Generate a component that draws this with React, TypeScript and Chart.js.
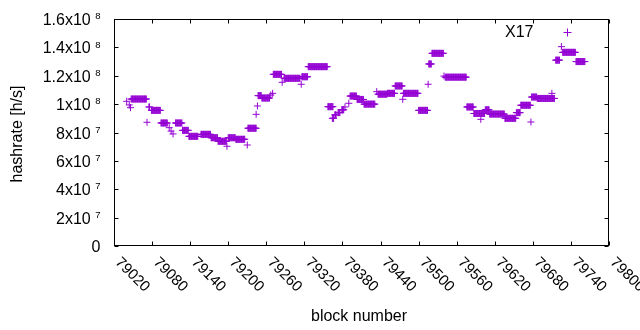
import React, { useEffect, useRef } from "react";
import { Chart, registerables } from "chart.js";

Chart.register(...registerables);

const seriesLabel = "X17";
const xTitle = "block number";
const yTitle = "hashrate [h/s]";

// runs of equal hashrate: first block, last block, value (h/s)
const runStart = [
  79040, 79044, 79046, 79047, 79072, 79075, 79079, 79094, 79107, 79110,
  79113, 79117, 79128, 79138, 79157, 79173, 79184, 79198, 79200, 79212,
  79230, 79231, 79244, 79246, 79247, 79253, 79267, 79270, 79271, 79285,
  79288, 79315, 79316, 79326, 79357, 79364, 79368, 79373, 79379, 79384,
  79390, 79392, 79403, 79414, 79434, 79436, 79451, 79463, 79475, 79476,
  79500, 79515, 79516, 79521, 79540, 79542, 79576, 79587, 79598, 79605,
  79612, 79636, 79654, 79661, 79677, 79678, 79687, 79710, 79716, 79725,
  79727, 79748,
];
const runEnd = [
  79040, 79044, 79046, 79071, 79072, 79076, 79093, 79104, 79107, 79110,
  79113, 79127, 79137, 79152, 79172, 79183, 79197, 79198, 79211, 79226,
  79230, 79244, 79244, 79246, 79252, 79265, 79267, 79270, 79284, 79285,
  79313, 79315, 79325, 79356, 79365, 79366, 79370, 79376, 79382, 79384,
  79390, 79402, 79413, 79431, 79434, 79450, 79462, 79474, 79475, 79499,
  79514, 79515, 79520, 79539, 79540, 79575, 79586, 79604, 79598, 79611,
  79635, 79653, 79660, 79676, 79677, 79686, 79714, 79710, 79722, 79725,
  79747, 79762,
];
const runValue = [
  1.02e8, 9.94e7, 9.75e7, 1.036e8, 8.72e7, 9.8e7, 9.56e7, 8.67e7, 8.34e7, 8.1e7,
  7.9e7, 8.67e7, 8.15e7, 7.73e7, 7.87e7, 7.63e7, 7.38e7, 7.03e7, 7.63e7, 7.52e7,
  7.12e7, 8.3e7, 9.28e7, 9.87e7, 1.06e8, 1.043e8, 1.064e8, 1.076e8, 1.21e8, 1.154e8,
  1.182e8, 1.14e8, 1.193e8, 1.264e8, 9.82e7, 9.0e7, 9.25e7, 9.4e7, 9.6e7, 9.8e7,
  1.006e8, 1.057e8, 1.033e8, 1.0e8, 1.088e8, 1.07e8, 1.076e8, 1.128e8, 1.034e8, 1.076e8,
  9.56e7, 1.14e8, 1.283e8, 1.358e8, 1.198e8, 1.19e8, 9.8e7, 9.34e7, 8.93e7, 9.6e7,
  9.3e7, 9.0e7, 9.4e7, 9.92e7, 8.74e7, 1.05e8, 1.04e8, 1.076e8, 1.31e8, 1.405e8,
  1.365e8, 1.3e8,
];

const xTickValues = [
  79020, 79080, 79140, 79200, 79260, 79320, 79380, 79440, 79500, 79560,
  79620, 79680, 79740, 79800,
];
const xTickLabels = [
  "79020", "79080", "79140", "79200", "79260", "79320", "79380", "79440",
  "79500", "79560", "79620", "79680", "79740", "79800",
];
const yTickValues = [0, 2e7, 4e7, 6e7, 8e7, 1e8, 1.2e8, 1.4e8, 1.6e8];
const yTickMain = ["0", "2x10", "4x10", "6x10", "8x10", "1x10", "1.2x10", "1.4x10", "1.6x10"];
const yTickSup = ["", "7", "7", "7", "7", "8", "8", "8", "8"];

const COLOR = "#9400d3";
const FONT = "'Liberation Sans', Arial, sans-serif";

function buildPoints() {
  const pts: { x: number; y: number }[] = [];
  for (let i = 0; i < runStart.length; i++) {
    for (let b = runStart[i]; b <= runEnd[i]; b++) {
      pts.push({ x: b, y: runValue[i] });
    }
  }
  return pts;
}

const decor = {
  id: "decor",
  afterDraw(chart: any) {
    const { ctx, chartArea: a, scales } = chart;
    const x = scales.x;
    const y = scales.y;
    ctx.save();
    ctx.strokeStyle = "#000";
    ctx.lineWidth = 1;
    const L = Math.round(a.left) + 0.5;
    const R = Math.round(a.right) - 0.5;
    const T = Math.round(a.top) + 0.5;
    const B = Math.round(a.bottom) - 0.5;
    ctx.strokeRect(L, T, R - L, B - T);
    ctx.beginPath();
    const tl = 4;
    xTickValues.forEach((v) => {
      const px = Math.round(x.getPixelForValue(v)) + 0.5;
      ctx.moveTo(px, B);
      ctx.lineTo(px, B - tl);
      ctx.moveTo(px, T);
      ctx.lineTo(px, T + tl);
    });
    yTickValues.forEach((v) => {
      const py = Math.round(y.getPixelForValue(v)) + 0.5;
      ctx.moveTo(L, py);
      ctx.lineTo(L + tl, py);
      ctx.moveTo(R, py);
      ctx.lineTo(R - tl, py);
    });
    ctx.stroke();

    ctx.fillStyle = "#000";
    // y tick labels
    const supRight = 100.5;
    yTickValues.forEach((v, i) => {
      const py = y.getPixelForValue(v);
      const sup = yTickSup[i];
      let mainRight = supRight;
      if (sup) {
        ctx.font = `9.5px ${FONT}`;
        ctx.textAlign = "right";
        ctx.textBaseline = "alphabetic";
        const sw = ctx.measureText(sup).width;
        ctx.fillText(sup, supRight, py + 0.2);
        mainRight = supRight - sw - 4.5;
      }
      ctx.font = `16px ${FONT}`;
      ctx.textAlign = "right";
      ctx.textBaseline = "alphabetic";
      ctx.fillText(yTickMain[i], mainRight, py + 6);
    });

    // x tick labels, rotated
    ctx.font = `15px ${FONT}`;
    ctx.textAlign = "left";
    ctx.textBaseline = "alphabetic";
    xTickValues.forEach((v, i) => {
      const px = x.getPixelForValue(v);
      ctx.save();
      ctx.translate(px + 0.6, 263);
      ctx.rotate(Math.PI / 4);
      ctx.fillText(xTickLabels[i], 0, 0);
      ctx.restore();
    });

    // axis titles
    ctx.font = `16px ${FONT}`;
    ctx.textAlign = "center";
    ctx.textBaseline = "alphabetic";
    ctx.fillText(xTitle, (a.left + a.right) / 2 - 2.5, 321);
    ctx.save();
    ctx.translate(21.5, 134);
    ctx.rotate(-Math.PI / 2);
    ctx.fillText(yTitle, 0, 0);
    ctx.restore();

    // key
    ctx.textAlign = "right";
    ctx.fillText(seriesLabel, 533.5, 37.3);
    ctx.strokeStyle = COLOR;
    ctx.beginPath();
    ctx.moveTo(563.5, 32.5);
    ctx.lineTo(571.5, 32.5);
    ctx.moveTo(567.5, 28.5);
    ctx.lineTo(567.5, 36.5);
    ctx.stroke();
    ctx.restore();
  },
};

export default function App() {
  const ref = useRef<HTMLCanvasElement | null>(null);
  useEffect(() => {
    if (!ref.current) return;
    const chart = new Chart(ref.current, {
      type: "scatter",
      data: {
        datasets: [
          {
            label: seriesLabel,
            data: buildPoints(),
            showLine: false,
            pointStyle: "cross",
            pointRadius: 3.5,
            pointHoverRadius: 3.5,
            borderColor: COLOR,
            backgroundColor: COLOR,
            borderWidth: 1,
          },
        ],
      },
      options: {
        responsive: false,
        animation: false,
        devicePixelRatio: 1,
        events: [],
        layout: { padding: { top: 19, right: 31, left: 0, bottom: 0 } },
        plugins: {
          legend: { display: false },
          tooltip: { enabled: false },
          title: { display: false },
        },
        scales: {
          x: {
            type: "linear",
            min: 79020,
            max: 79800,
            ticks: { display: false },
            grid: { display: false },
            border: { display: false },
            afterFit: (s: any) => {
              s.height = 84;
            },
          },
          y: {
            type: "linear",
            min: 0,
            max: 1.6e8,
            ticks: { display: false },
            grid: { display: false },
            border: { display: false },
            afterFit: (s: any) => {
              s.width = 114;
            },
          },
        },
      },
      plugins: [decor],
    });
    return () => chart.destroy();
  }, []);
  return (
    <div style={{ position: "absolute", left: 0, top: 0, width: 640, height: 330, background: "#fff" }}>
      <canvas ref={ref} width={640} height={330} style={{ display: "block" }} />
    </div>
  );
}
